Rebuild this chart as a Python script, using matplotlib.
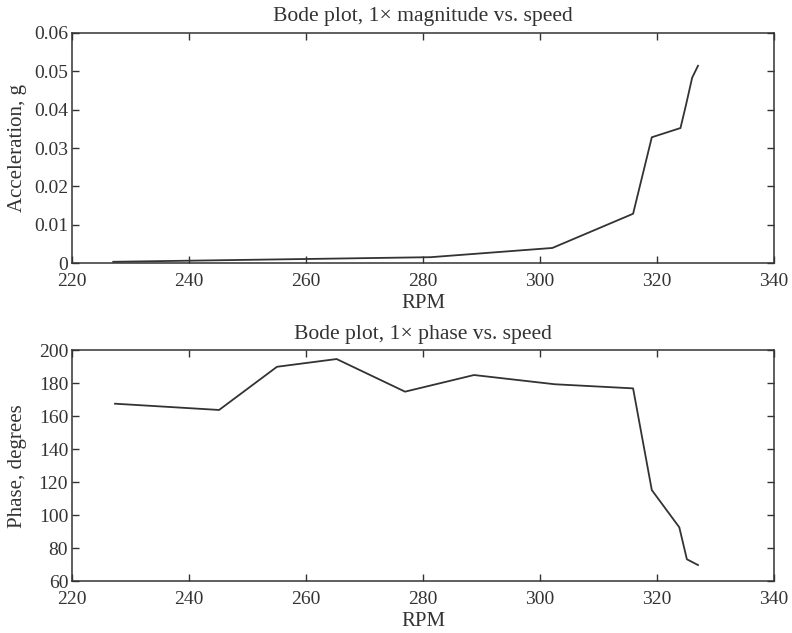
import matplotlib
matplotlib.use("Agg")
import matplotlib.pyplot as plt

# Data
mag_rpm = [227, 281.3, 302.1, 315.9, 319.1, 324.0, 324.9, 326.0, 327.0]
mag_acc = [0.0004, 0.0016, 0.0040, 0.0129, 0.0328, 0.0352, 0.0409, 0.0483, 0.0514]

phase_rpm = [227.3, 245.1, 255.0, 265.2, 276.9, 288.7, 302.5, 315.9, 319.1, 323.8, 325.1, 327.0]
phase_deg = [167.6, 163.8, 190.0, 194.7, 174.9, 185.0, 179.4, 176.9, 115.2, 92.6, 73.2, 69.7]

x_ticks = [220, 240, 260, 280, 300, 320, 340]
mag_ticks = [0, 0.01, 0.02, 0.03, 0.04, 0.05, 0.06]
mag_tick_labels = ["0", "0.01", "0.02", "0.03", "0.04", "0.05", "0.06"]
phase_ticks = [60, 80, 100, 120, 140, 160, 180, 200]

plt.rcParams['font.family'] = ['Liberation Serif', 'DejaVu Serif']
col = '#333333'

fig = plt.figure(figsize=(7.92, 6.33), dpi=100)
ax1 = fig.add_axes([0.0913, 0.584, 0.886, 0.3643])
ax2 = fig.add_axes([0.0913, 0.0821, 0.886, 0.3645])

def style(ax):
    ax.tick_params(direction='in', top=True, right=True, length=5, width=1,
                   labelsize=14, colors=col)
    ax.tick_params(axis='x', pad=7)
    ax.tick_params(axis='y', pad=3)
    for s in ax.spines.values():
        s.set_linewidth(1.1)
        s.set_color(col)
    ax.set_xlim(220, 340)
    ax.set_xticks(x_ticks)

ax1.plot(mag_rpm, mag_acc, color=col, lw=1.3)
style(ax1)
ax1.set_ylim(0, 0.06)
ax1.set_yticks(mag_ticks)
ax1.set_yticklabels(mag_tick_labels)
ax1.set_title("Bode plot, 1\u00d7 magnitude vs. speed", fontsize=15.6, color=col, pad=8.5)
ax1.set_xlabel("RPM", fontsize=15, color=col, labelpad=3)
ax1.set_ylabel("Acceleration, g", fontsize=15, color=col)
ax1.yaxis.set_label_coords(-0.064, 0.5)

ax2.plot(phase_rpm, phase_deg, color=col, lw=1.3)
style(ax2)
ax2.set_ylim(60, 200)
ax2.set_yticks(phase_ticks)
ax2.set_title("Bode plot, 1\u00d7 phase vs. speed", fontsize=15.6, color=col, pad=8)
ax2.set_xlabel("RPM", fontsize=15, color=col, labelpad=3)
ax2.set_ylabel("Phase, degrees", fontsize=15, color=col)
ax2.yaxis.set_label_coords(-0.064, 0.5)

fig.savefig("out.png", dpi=100)
